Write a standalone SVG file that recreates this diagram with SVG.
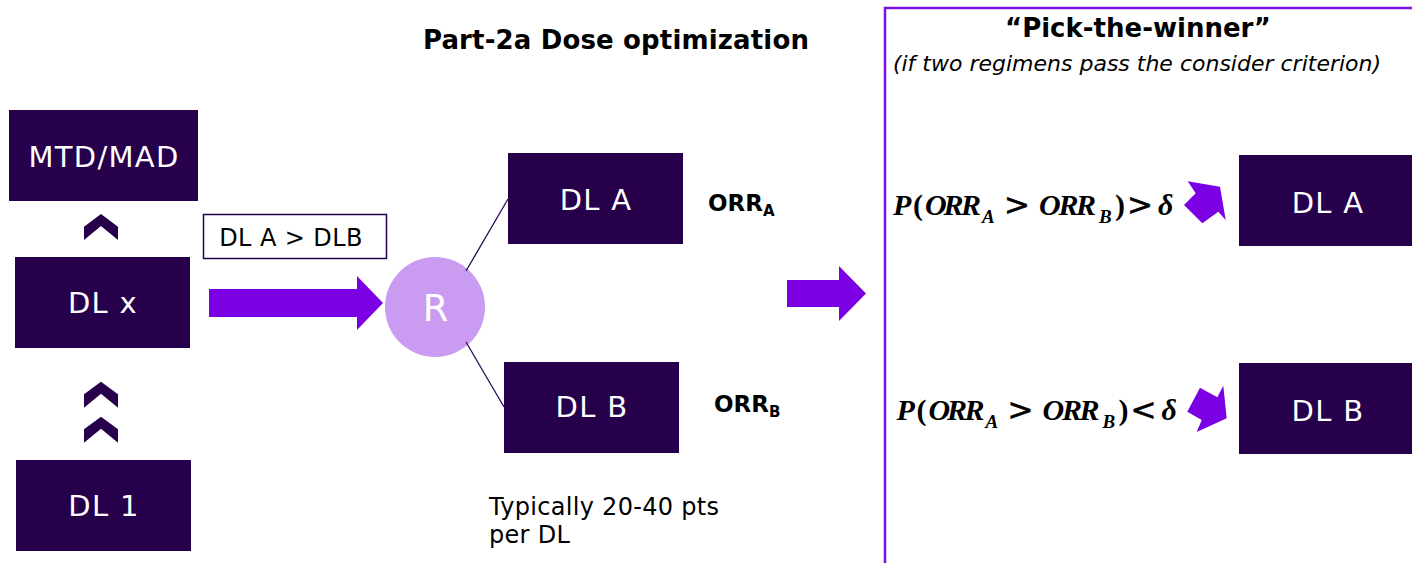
<svg xmlns="http://www.w3.org/2000/svg" width="1412" height="563" viewBox="0 0 1412 563">
  <style>
    .box { fill: #26004b; }
    .boxtxt { fill: #ffffff; font-family: "DejaVu Sans", Verdana, sans-serif; font-size: 29px; letter-spacing: 1.3px; text-anchor: middle; }
    .arrow { fill: #7b00e3; }
    .chev { fill: #26004b; }
    .lbl { font-family: "DejaVu Sans", Verdana, sans-serif; fill: #000000; }
    .math { font-family: "Liberation Serif", "Times New Roman", serif; font-weight: bold; font-style: italic; fill: #000000; font-size: 30px; }
    .sub { font-size: 19px; }
    .paren { font-style: normal; }
    .op { font-family: "DejaVu Sans", sans-serif; font-weight: normal; font-style: normal; font-size: 31px; stroke: #000000; stroke-width: 0.6; }
    .link { stroke: #2a0a55; stroke-width: 1.3; fill: none; }
  </style>

  <rect x="0" y="0" width="1412" height="563" fill="#ffffff"/>

  <!-- Pick-the-winner frame -->
  <rect x="885" y="8" width="560" height="580" fill="none" stroke="#7d10e6" stroke-width="2.5"/>

  <!-- Headings -->
  <text class="lbl" x="616" y="49" font-size="26" font-weight="bold" letter-spacing="0.15" text-anchor="middle">Part-2a Dose optimization</text>
  <text class="lbl" x="1138" y="37" font-size="26" font-weight="bold" text-anchor="middle">“Pick-the-winner”</text>
  <text class="lbl" x="1137" y="71" font-size="22" font-style="italic" text-anchor="middle">(if two regimens pass the consider criterion)</text>

  <!-- Escalation column -->
  <g id="node-mtd">
    <rect class="box" x="9" y="110" width="189" height="91"/>
    <text class="boxtxt" x="104" y="167">MTD/MAD</text>
  </g>
  <g id="node-dlx">
    <rect class="box" x="15" y="257" width="175" height="91"/>
    <text class="boxtxt" x="103" y="313">DL x</text>
  </g>
  <g id="node-dl1">
    <rect class="box" x="16" y="460" width="175" height="91"/>
    <text class="boxtxt" x="104" y="516">DL 1</text>
  </g>

  <!-- Randomisation and arms -->
  <g id="node-r">
    <circle cx="435" cy="307" r="50" fill="#c99cf1"/>
    <text x="435.5" y="321" fill="#ffffff" font-family="DejaVu Sans, Verdana, sans-serif" font-size="37" text-anchor="middle">R</text>
  </g>
  <g id="node-dla">
    <rect class="box" x="508" y="153" width="175" height="91"/>
    <text class="boxtxt" x="596" y="210">DL A</text>
  </g>
  <g id="node-dlb">
    <rect class="box" x="504" y="362" width="175" height="91"/>
    <text class="boxtxt" x="592" y="417">DL B</text>
  </g>
  <g id="label-orr-a">
    <text class="lbl" x="708" y="211" font-size="23" font-weight="bold">ORR<tspan font-size="15" dy="5">A</tspan></text>
  </g>
  <g id="label-orr-b">
    <text class="lbl" x="714" y="412" font-size="23" font-weight="bold">ORR<tspan font-size="15" dy="5">B</tspan></text>
  </g>

  <g id="label-order">
    <rect x="203.5" y="214.5" width="183" height="44" fill="#ffffff" stroke="#26004b" stroke-width="1.5"/>
    <text class="lbl" x="291" y="245.5" font-size="24" letter-spacing="0.4" text-anchor="middle">DL A &gt; DLB</text>
  </g>

  <g id="note-size">
    <text class="lbl" x="489" y="515" font-size="24" letter-spacing="0.3">Typically 20-40 pts</text>
    <text class="lbl" x="489" y="543" font-size="24" letter-spacing="0.3">per DL</text>
  </g>

  <!-- Decision arms -->
  <g id="node-win-a">
    <rect class="box" x="1239" y="155" width="180" height="91"/>
    <text class="boxtxt" x="1328" y="213">DL A</text>
  </g>
  <g id="node-win-b">
    <rect class="box" x="1239" y="363" width="180" height="91"/>
    <text class="boxtxt" x="1328" y="421">DL B</text>
  </g>

  <!-- Selection rules (one text per rule, glyph runs placed explicitly) -->
  <g id="rule-a">
    <text class="math" y="215"><tspan x="893">P</tspan><tspan class="paren" x="913">(</tspan><tspan x="925 943.5 961">ORR</tspan><tspan class="sub" x="982" y="223">A</tspan><tspan class="op" x="1004" y="215">&gt;</tspan><tspan x="1039 1058.5 1076">ORR</tspan><tspan class="sub" x="1099" y="223">B</tspan><tspan class="paren" x="1115" y="215">)</tspan><tspan class="op" x="1127">&gt;</tspan><tspan x="1158">δ</tspan></text>
  </g>
  <g id="rule-b">
    <text class="math" y="420"><tspan x="896.5">P</tspan><tspan class="paren" x="916.5">(</tspan><tspan x="928.5 947 964.5">ORR</tspan><tspan class="sub" x="985.5" y="428">A</tspan><tspan class="op" x="1007.5" y="420">&gt;</tspan><tspan x="1042.5 1062 1079.5">ORR</tspan><tspan class="sub" x="1102.5" y="428">B</tspan><tspan class="paren" x="1118.5" y="420">)</tspan><tspan class="op" x="1130.5">&lt;</tspan><tspan x="1161.5">δ</tspan></text>
  </g>

  <!-- Connectors -->
  <g id="connectors">
    <polygon class="chev" points="101,214 118,226.7 118,240 101,226 84,240 84,226.7"/>
    <polygon class="chev" points="101,381.7 118,394.3 118,407.7 101,393.7 84,407.7 84,394.3"/>
    <polygon class="chev" points="101,416.7 118,429.3 118,442.7 101,428.7 84,442.7 84,429.3"/>

    <polygon class="arrow" points="209,289 357,289 357,276 383,303 357,330 357,317 209,317"/>
    <polygon class="arrow" points="787,280 839,280 839,266 866,293.5 839,321 839,307 787,307"/>

    <line class="link" x1="466" y1="271" x2="508" y2="199"/>
    <line class="link" x1="466" y1="342" x2="504" y2="407"/>

    <polygon class="arrow" points="1220,186.7 1225.7,220 1218.3,211.7 1202.3,223.3 1184,205 1195.7,193.3 1187.7,181.3"/>
    <polygon class="arrow" points="1226.7,418.3 1196.7,432 1201.7,420 1187.3,411.7 1200,387.7 1217.3,397.3 1223.3,385.7"/>
  </g>
</svg>
